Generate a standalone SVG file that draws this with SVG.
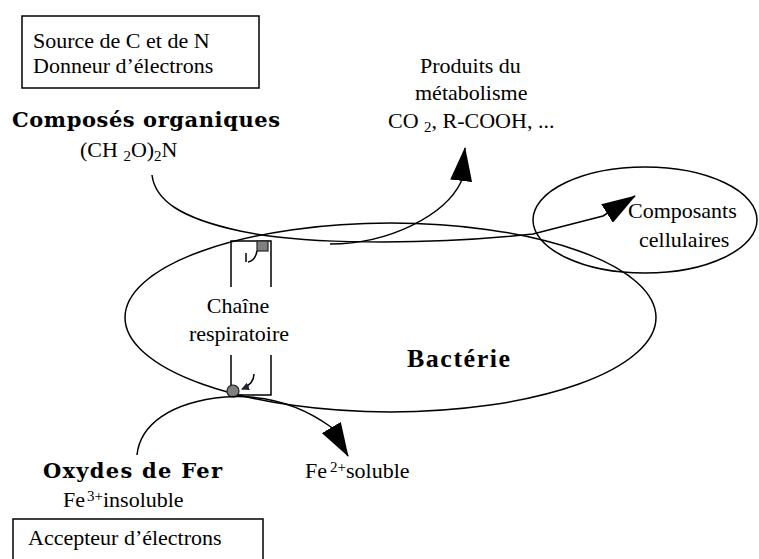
<svg xmlns="http://www.w3.org/2000/svg" width="759" height="559" viewBox="0 0 759 559" font-family="'Liberation Serif', 'Times New Roman', serif">
<style>
text{font-family:'Liberation Serif','Times New Roman',serif;font-size:22px;fill:#000}
.b{font-family:'DejaVu Serif','Liberation Serif',serif;font-weight:bold;font-size:21px}
.bb{font-family:'Liberation Serif','Times New Roman',serif;font-weight:bold;font-size:26px}
.sub{font-size:15px}
.ln{fill:none;stroke:#000;stroke-width:1.5}
.dot{fill:#808080;stroke:#222;stroke-width:1.2}
</style>
<defs>
<marker id="ah" markerUnits="userSpaceOnUse" markerWidth="34" markerHeight="22" viewBox="0 0 34 22" refX="33" refY="11" orient="auto">
<path d="M0,0 L34,11 L0,22 z" fill="#000"/>
</marker>
<marker id="sm" markerUnits="userSpaceOnUse" markerWidth="8" markerHeight="8" viewBox="0 0 8 8" refX="7" refY="4" orient="auto">
<path d="M0,0 L8,4 L0,8 z" fill="#223"/>
</marker>
</defs>
<rect width="759" height="559" fill="#fff"/>

<g id="bacterie">
<ellipse class="ln" cx="390.5" cy="317.5" rx="265.5" ry="94.5"/>
<text class="bb" x="407" y="367" textLength="103">Bactérie</text>
</g>

<g id="composants">
<ellipse class="ln" cx="645" cy="220" rx="112" ry="53"/>
<text x="628" y="218">Composants</text>
<text x="639" y="247">cellulaires</text>
</g>

<g id="source">
<rect class="ln" x="22" y="16" width="237" height="72"/>
<text x="33" y="48">Source de C et de N</text>
<text x="33" y="73">Donneur d’électrons</text>
</g>

<g id="composes">
<text class="b" x="12" y="127" textLength="268">Composés organiques</text>
<text x="80" y="157">(CH <tspan class="sub" dy="4">2</tspan><tspan dy="-4">O)</tspan><tspan class="sub" dy="4">2</tspan><tspan dy="-4">N</tspan></text>
</g>

<g id="produits">
<text x="420" y="73">Produits du</text>
<text x="415" y="100">métabolisme</text>
<text x="388" y="128">CO <tspan class="sub" dy="4">2</tspan><tspan dy="-4">, R-COOH, ...</tspan></text>
</g>

<g id="chaine">
<path class="ln" d="M231,287 L231,241 L271,241 L271,287"/>
<path class="ln" d="M231,355 L231,395 L271,395 L271,355"/>
<rect class="dot" x="257" y="241" width="11" height="10"/>
<path class="ln" d="M257,251 Q255,261 248,262" stroke-width="1.3"/>
<path class="ln" d="M246,253 L246,262" stroke-width="1.3"/>
<circle class="dot" cx="233" cy="391" r="6"/>
<path class="ln" d="M254,374 Q254,384 242,389" stroke-width="1.3" marker-end="url(#sm)"/>
<text x="238" y="313" text-anchor="middle">Chaîne</text>
<text x="239" y="341" text-anchor="middle">respiratoire</text>
</g>

<g id="oxydes">
<text class="b" x="43" y="478" textLength="179">Oxydes de Fer</text>
<text x="63" y="507">Fe<tspan class="sub" dx="2" dy="-6">3+</tspan><tspan dy="6">insoluble</tspan></text>
</g>

<g id="fe2">
<text x="305" y="478">Fe<tspan class="sub" dx="3" dy="-6">2+</tspan><tspan dy="6">soluble</tspan></text>
</g>

<g id="accepteur">
<rect class="ln" x="13" y="519" width="250" height="50"/>
<text x="28" y="545">Accepteur d’électrons</text>
</g>

<g id="connectors">
<path class="ln" d="M152,175 C155,200 180,218 240,231 C300,244 420,246 533,234 L603,216 L635,196" marker-end="url(#ah)"/>
<path class="ln" d="M330,244 C390,244 445,215 461,182 L465,148" marker-end="url(#ah)"/>
<path class="ln" d="M137,455 C140,425 170,402 225,397 C270,394 305,408 331,427 L348,456" marker-end="url(#ah)"/>
</g>
</svg>
